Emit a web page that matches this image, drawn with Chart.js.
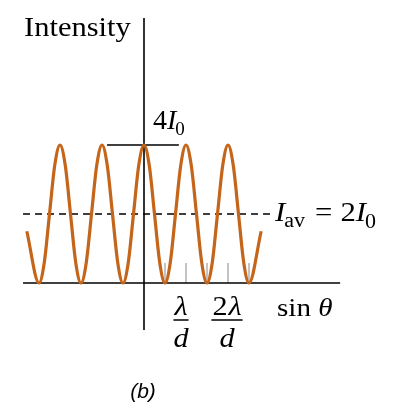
<!DOCTYPE html>
<html>
<head>
<meta charset="utf-8">
<script src="https://cdn.jsdelivr.net/npm/chart.js@4/dist/chart.umd.min.js"></script>
<style>
html,body{margin:0;padding:0;background:#fff;}
canvas{display:block;}
</style>
</head>
<body>
<canvas id="c" width="400" height="420"></canvas>
<script>
// ---- data (x in units of lambda/d, y in units of I0) ----
const curveX = [-2.79, -2.5, -2.375, -2.25, -2.125, -2, -1.875, -1.75, -1.625, -1.5, -1.375, -1.25, -1.125, -1, -0.875, -0.75, -0.625, -0.5, -0.375, -0.25, -0.125, 0, 0.125, 0.25, 0.375, 0.5, 0.625, 0.75, 0.875, 1, 1.125, 1.25, 1.375, 1.5, 1.625, 1.75, 1.875, 2, 2.125, 2.25, 2.375, 2.5, 2.79];
const curveY = [1.5,
  0, 0.59, 2, 3.41, 4, 3.41, 2, 0.59,
  0, 0.59, 2, 3.41, 4, 3.41, 2, 0.59,
  0, 0.59, 2, 3.41, 4, 3.41, 2, 0.59,
  0, 0.59, 2, 3.41, 4, 3.41, 2, 0.59,
  0, 0.59, 2, 3.41, 4, 3.41, 2, 0.59,
  0, 1.5];
const tickX = [0.5, 1, 1.5, 2, 2.5];
const peakValue = 4;     // 4 I0
const avgValue = 2;      // I_av = 2 I0
const tickLabels = ['λ/d', '2λ/d'];

// ---- layout constants ----
const X_MIN = -144/42, X_MAX = (400-144)/42;
const Y_MIN = -(420-283)/34.5, Y_MAX = 283/34.5;
const AXIS_X = [-2.88, 4.67];
const AXIS_Y = [-1.36, 7.68];
const PEAK_LINE = [-0.88, 0.83];
const AVG_LINE = [-2.88, 3.0];
const TICK_H = 0.58;
const ORANGE = '#c5651a';

const curveData = curveX.map((x, i) => ({x, y: curveY[i]}));
const seg = (x0, y0, x1, y1) => [{x: x0, y: y0}, {x: x1, y: y1}];
const lineDs = (data, color, width, dash) => ({
  type: 'line', data, borderColor: color, borderWidth: width, pointRadius: 0,
  tension: 0, fill: false, borderDash: dash || [], borderCapStyle: 'butt'
});

const datasets = [
  {type: 'line', data: curveData, borderColor: ORANGE, borderWidth: 3.2, pointRadius: 0,
   cubicInterpolationMode: 'monotone', fill: false, borderCapStyle: 'butt'},
  lineDs(seg(AXIS_X[0], 0, AXIS_X[1], 0), '#000', 1.6),
  lineDs(seg(0, AXIS_Y[0], 0, AXIS_Y[1]), '#000', 1.6),
  lineDs(seg(PEAK_LINE[0], peakValue, PEAK_LINE[1], peakValue), '#000', 1.6),
  lineDs(seg(AVG_LINE[0], avgValue, AVG_LINE[1], avgValue), '#000', 1.3, [7, 5]),
  ...tickX.map(t => lineDs(seg(t, 0, t, TICK_H), '#b5b5b5', 1.6))
];

const SERIF = '"Liberation Serif", "DejaVu Serif", serif';

const textPlugin = {
  id: 'texts',
  afterDraw(chart) {
    const ctx = chart.ctx;
    const xs = chart.scales.x, ys = chart.scales.y;
    const px = v => xs.getPixelForValue(v);
    const py = v => ys.getPixelForValue(v);
    // draw text horizontally stretched by sx, return advance width
    const t = (s, x, y, font, sx) => {
      ctx.font = font;
      const w = ctx.measureText(s).width * sx;
      ctx.save(); ctx.translate(x, y); ctx.scale(sx, 1);
      ctx.fillText(s, 0, 0); ctx.restore();
      return w;
    };
    ctx.save();
    ctx.fillStyle = '#000';
    ctx.textBaseline = 'alphabetic';
    ctx.textAlign = 'left';

    // Y axis title
    t('Intensity', 24, 36, '27px ' + SERIF, 1.13);

    // 4 I0 label
    let x = px(0) + 9, y = py(peakValue) - 16;
    x += t('4', x, y, '28px ' + SERIF, 1);
    x += t('I', x, y, 'italic 28px ' + SERIF, 1);
    t('0', x - 1, y + 6, '19px ' + SERIF, 1);

    // I_av = 2 I0
    const S = 1.1;
    x = 275; y = py(avgValue) + 7;
    x += t('I', x, y, 'italic 28px ' + SERIF, S);
    x += t('av', x - 1, y + 6, '20px ' + SERIF, S) + 9;
    x += t('=', x, y, '28px ' + SERIF, S) + 8;
    x += t('2', x, y, '28px ' + SERIF, S);
    x += t('I', x, y, 'italic 28px ' + SERIF, S);
    t('0', x - 1, y + 7, '20px ' + SERIF, S);

    // sin theta
    x = 277; y = 316;
    x += t('sin ', x, y, '26px ' + SERIF, 1.12);
    t('θ', x, y, 'italic 26px ' + SERIF, 1.12);

    // fractions
    const frac = (label, cx) => {
      const top = 315, bot = 347, bar = 320;
      const parts = label.split('/');
      const numer = parts[0], denom = parts[1];
      let w;
      if (numer.startsWith('2')) {
        ctx.font = '28px ' + SERIF;
        const w2 = ctx.measureText('2').width * 1.08;
        ctx.font = 'italic 28px ' + SERIF;
        const wl = ctx.measureText('λ').width * 1.08;
        w = w2 + wl + 1;
        t('2', cx - w/2, top, '28px ' + SERIF, 1.08);
        t('λ', cx - w/2 + w2 + 1, top, 'italic 28px ' + SERIF, 1.08);
      } else {
        ctx.font = 'italic 28px ' + SERIF;
        w = ctx.measureText(numer).width * 1.08;
        t(numer, cx - w/2, top, 'italic 28px ' + SERIF, 1.08);
      }
      ctx.font = 'italic 28px ' + SERIF;
      const wd = ctx.measureText(denom).width * 1.08;
      t(denom, cx - wd/2, bot, 'italic 28px ' + SERIF, 1.08);
      ctx.fillRect(cx - w/2 - 1, bar - 0.75, w + 2, 1.5);
    };
    frac(tickLabels[0], px(1) - 5);
    frac(tickLabels[1], px(2) - 1);

    // (b)
    ctx.font = 'italic 21px "Liberation Sans", "DejaVu Sans", sans-serif';
    ctx.textAlign = 'center';
    ctx.fillText('(b)', 143, 398);
    ctx.restore();
  }
};

new Chart(document.getElementById('c'), {
  type: 'line',
  data: {datasets},
  options: {
    responsive: false,
    animation: false,
    layout: {padding: 0},
    plugins: {legend: {display: false}, tooltip: {enabled: false}},
    scales: {
      x: {type: 'linear', min: X_MIN, max: X_MAX, display: false},
      y: {type: 'linear', min: Y_MIN, max: Y_MAX, display: false}
    }
  },
  plugins: [{
    id: 'bg',
    beforeDraw(chart) {
      const c = chart.ctx; c.save(); c.fillStyle = '#fff';
      c.fillRect(0, 0, chart.width, chart.height); c.restore();
    }
  }, textPlugin]
});
</script>
</body>
</html>
